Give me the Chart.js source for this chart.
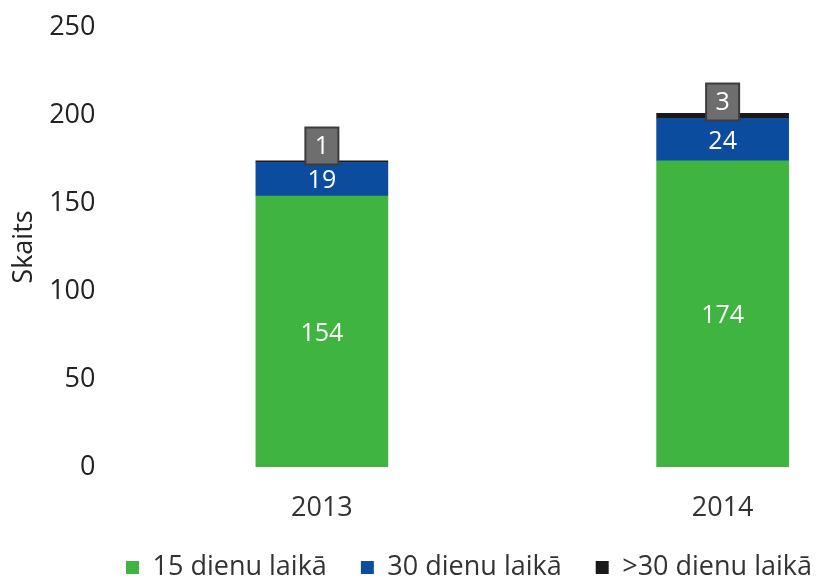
<!DOCTYPE html>
<html>
<head>
<meta charset="utf-8">
<script src="https://cdn.jsdelivr.net/npm/chart.js@4/dist/chart.umd.min.js"></script>
<style>
  html, body { margin: 0; padding: 0; background: #fff; overflow: hidden; }
  #wrap { width: 824px; height: 581px; overflow: hidden; }
</style>
</head>
<body>
<div id="wrap"><canvas id="chart" width="938" height="581"></canvas></div>
<script>
const years = ['2013', '2014'];
const within15 = [154, 174];
const within30 = [19, 24];
const over30 = [1, 3];
const seriesNames = ['15 dienu laikā', '30 dienu laikā', '>30 dienu laikā'];
const seriesColors = ['#40b440', '#0c4c9e', '#1a1a1a'];
const yMin = 0;
const yMax = 250;
const yStep = 50;

const FONT = 'Open Sans';

// value labels: white numbers inside the bars, grey tag above the stack
const valueLabels = {
  id: 'valueLabels',
  afterDatasetsDraw(chart) {
    const ctx = chart.ctx;
    ctx.save();
    ctx.textAlign = 'center';
    ctx.textBaseline = 'middle';
    ctx.font = '25px "' + FONT + '"';
    chart.data.datasets.forEach((ds, i) => {
      const meta = chart.getDatasetMeta(i);
      meta.data.forEach((bar, j) => {
        const v = ds.data[j];
        if (i < 2) {
          ctx.fillStyle = '#ffffff';
          ctx.fillText(String(v), bar.x, (bar.y + bar.base) / 2 + 2);
        } else {
          const w = 33, h = 37;
          const bottom = bar.base + 2;
          const left = bar.x - w / 2;
          ctx.fillStyle = '#6e6e6e';
          ctx.fillRect(left, bottom - h, w, h);
          ctx.strokeStyle = '#3c3c3c';
          ctx.lineWidth = 2;
          ctx.strokeRect(left, bottom - h, w, h);
          ctx.fillStyle = '#ffffff';
          ctx.fillText(String(v), bar.x, bottom - h / 2 + 1);
        }
      });
    });
    ctx.restore();
  }
};

// fixed legend height so the items can sit well apart
const legendBox = {
  id: 'legendBox',
  beforeUpdate(chart) {
    const lg = chart.legend;
    if (lg && !lg._fixed) {
      const fit = lg.fit.bind(lg);
      lg.fit = function () { fit(); this.height = 61; };
      lg._fixed = true;
    }
  }
};

new Chart(document.getElementById('chart'), {
  type: 'bar',
  data: {
    labels: years,
    datasets: [
      { label: seriesNames[0], data: within15, backgroundColor: seriesColors[0] },
      { label: seriesNames[1], data: within30, backgroundColor: seriesColors[1] },
      { label: seriesNames[2], data: over30, backgroundColor: seriesColors[2] }
    ]
  },
  options: {
    responsive: false,
    animation: false,
    layout: { padding: 0 },
    datasets: { bar: { barThickness: 132 } },
    plugins: {
      legend: {
        position: 'bottom',
        labels: {
          boxWidth: 13,
          boxHeight: 13,
          padding: 34,
          color: '#333',
          font: { family: FONT, size: 27 }
        }
      },
      tooltip: { enabled: false }
    },
    scales: {
      x: {
        stacked: true,
        grid: { display: false, drawTicks: false },
        border: { display: false },
        ticks: { padding: 27.5, color: '#333', font: { family: FONT, size: 27, lineHeight: 1 } },
        afterFit(s) { s.height = 53; }
      },
      y: {
        stacked: true,
        min: yMin,
        max: yMax,
        grid: { display: false, drawTicks: false },
        border: { display: false },
        ticks: { stepSize: yStep, padding: 26, color: '#222', font: { family: FONT, size: 27, lineHeight: '2px' } },
        title: {
          display: true,
          text: 'Skaits',
          color: '#222',
          font: { family: FONT, size: 27 },
          padding: { top: 8, bottom: 0 }
        },
        afterFit(s) { s.width = 121.5; }
      },
      pad: {
        position: 'right',
        display: true,
        grid: { display: false, drawTicks: false },
        border: { display: false },
        ticks: { display: false },
        afterFit(s) { s.width = 15; }
      }
    }
  },
  plugins: [valueLabels, legendBox]
});
</script>
</body>
</html>
